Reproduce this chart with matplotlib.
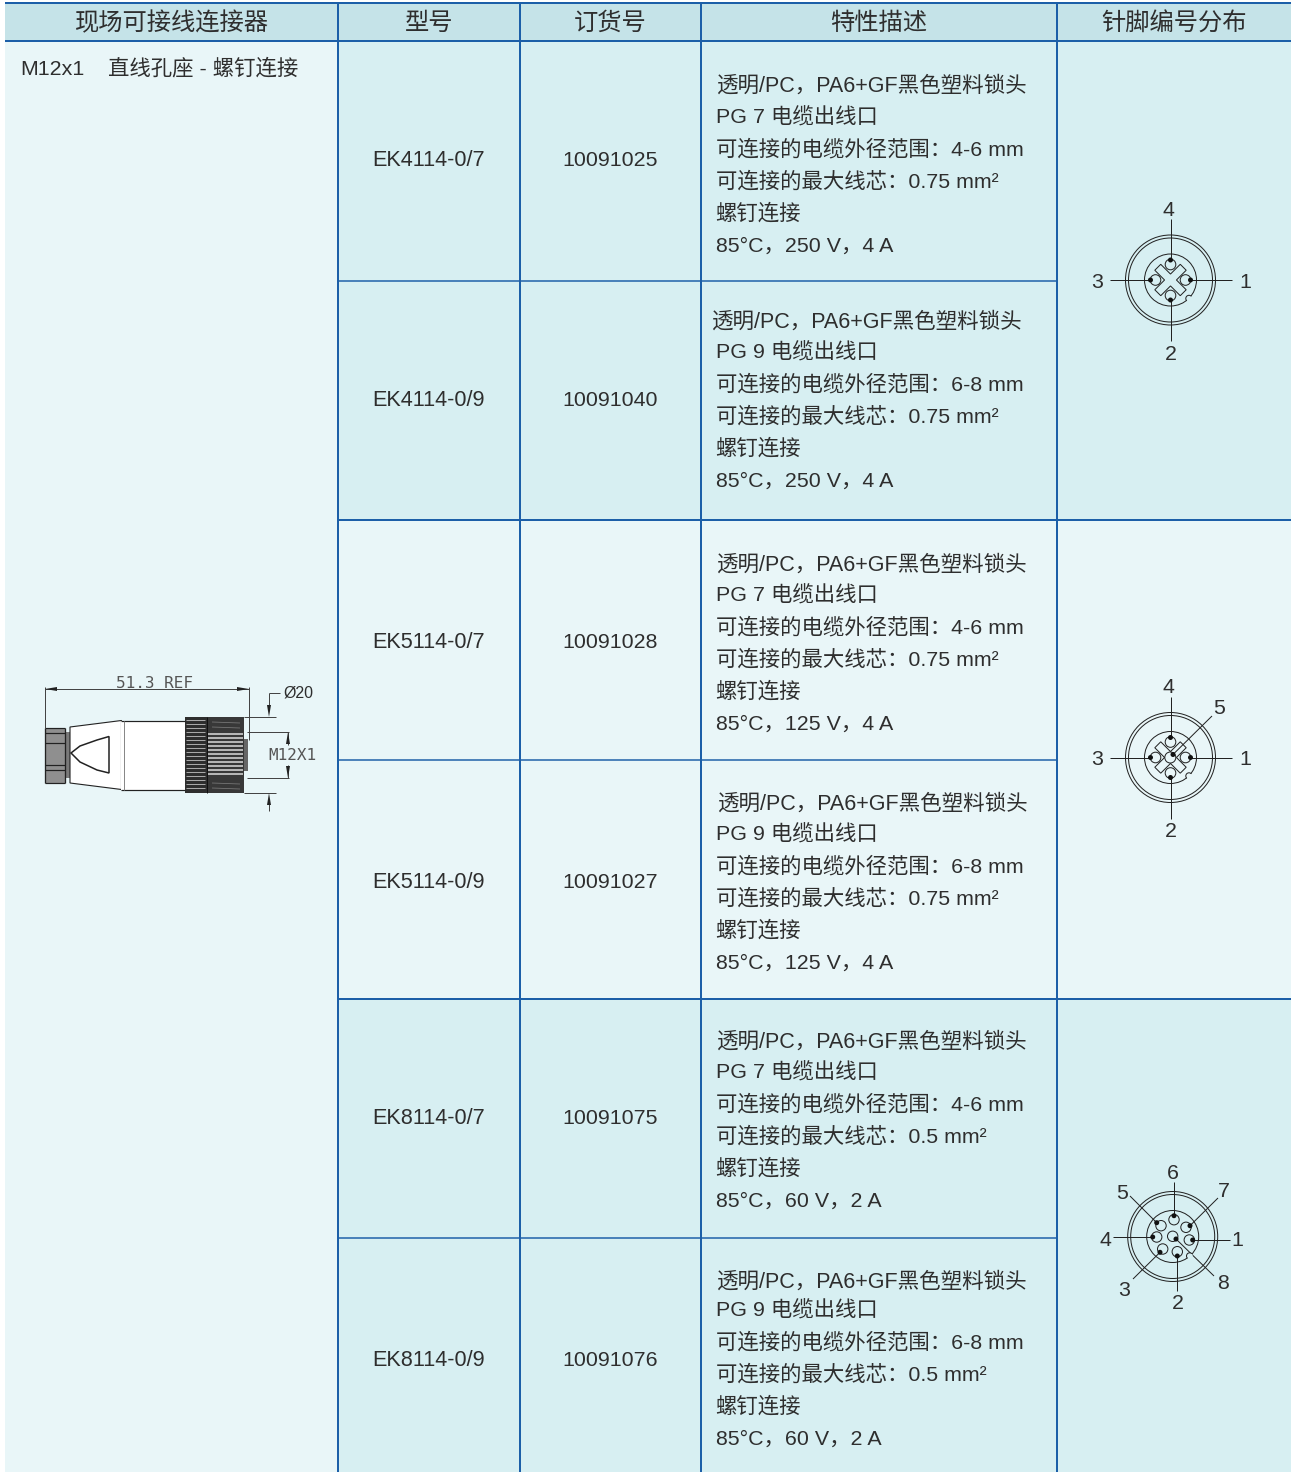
import matplotlib
matplotlib.use("Agg")
import matplotlib.pyplot as plt
from matplotlib.patches import Arc, Circle, Polygon, Rectangle

plt.rcParams['font.family'] = ['Liberation Sans', 'Noto Sans CJK SC']

W, H = 1292, 1472
LINE = "#1c5fa8"
HEAD = "#c5e3e8"
LIGHT = "#e9f6f8"
DARK = "#d7eff2"
TXT = "#2e2e2e"
INK = "#222222"

# table content
headers = ["现场可接线连接器", "型号", "订货号", "特性描述", "针脚编号分布"]
models = ["EK4114-0/7", "EK4114-0/9", "EK5114-0/7", "EK5114-0/9", "EK8114-0/7", "EK8114-0/9"]
orders = ["10091025", "10091040", "10091028", "10091027", "10091075", "10091076"]
glands = ["PG 7 电缆出线口", "PG 9 电缆出线口", "PG 7 电缆出线口", "PG 9 电缆出线口", "PG 7 电缆出线口", "PG 9 电缆出线口"]
ranges = ["4-6 mm", "6-8 mm", "4-6 mm", "6-8 mm", "4-6 mm", "6-8 mm"]
wires = ["0.75 mm²", "0.75 mm²", "0.75 mm²", "0.75 mm²", "0.5 mm²", "0.5 mm²"]
ratings = ["85°C，250 V，4 A", "85°C，250 V，4 A", "85°C，125 V，4 A", "85°C，125 V，4 A", "85°C，60 V，2 A", "85°C，60 V，2 A"]

# layout in picture pixels
col_x = [5, 338, 520, 701, 1057, 1291]
row_y = [41, 281, 520, 760, 999, 1238, 1472]
model_y = [159, 399, 641, 881, 1117, 1359]
desc_y = [
    [84, 116.5, 148, 180, 212, 244],
    [320, 351.5, 383, 415, 447, 479],
    [563, 594.5, 626, 658, 690, 722],
    [802, 833.5, 865, 897, 929, 961],
    [1040, 1071.5, 1103, 1135, 1167, 1199],
    [1280, 1309.5, 1341, 1373, 1405, 1437],
]
first_x = [716, 711, 716, 717, 716, 716]

fig = plt.figure(figsize=(W / 100, H / 100), dpi=100, facecolor="white")
ax = fig.add_axes([0, 0, 1, 1])
ax.set_xlim(0, W)
ax.set_ylim(H, 0)
ax.axis("off")


def label(x, y, s, size=15.4, ha="left", color=TXT, **kw):
    # y is the middle of the line, text is put on a baseline so mixed fonts line up
    ax.text(x, y + 7.5, s, fontsize=size, ha=ha, va="baseline", color=color, zorder=8, **kw)


def line(xs, ys, lw=1.0, color=INK):
    ax.plot(xs, ys, color=color, lw=lw * 0.72, solid_capstyle="butt", zorder=4)


def box(x0, y0, x1, y1, color, z=1):
    ax.add_patch(Rectangle((x0, y0), x1 - x0, y1 - y0, fc=color, ec="none", zorder=z))


def arrow(tip_x, tip_y, dx, dy):
    # small dimension arrow head pointing at the tip
    if dx:
        pts = [(tip_x, tip_y), (tip_x + dx, tip_y - 2), (tip_x + dx, tip_y + 2)]
    else:
        pts = [(tip_x, tip_y), (tip_x - 2, tip_y + dy), (tip_x + 2, tip_y + dy)]
    ax.add_patch(Polygon(pts, fc=INK, ec="none", zorder=5))


# backgrounds
box(col_x[0], 3, col_x[-1], row_y[0], HEAD)
box(col_x[0], row_y[0], col_x[1], H, LIGHT)
for top, bottom, c in [(row_y[0], row_y[2], DARK), (row_y[2], row_y[4], LIGHT), (row_y[4], H, DARK)]:
    box(col_x[1], top, col_x[-1], bottom, c)

# grid lines
line([col_x[0], col_x[-1]], [3, 3], 2, LINE)
line([col_x[0], col_x[-1]], [41, 41], 2, LINE)
for x in col_x[1:5]:
    line([x, x], [3, H], 2, LINE)
for i in [1, 3, 5]:
    line([col_x[1], col_x[4]], [row_y[i], row_y[i]], 1.5, LINE)
for i in [2, 4]:
    line([col_x[1], col_x[-1]], [row_y[i], row_y[i]], 2, LINE)

# header
for i, h in enumerate(headers):
    label((col_x[i] + col_x[i + 1]) / 2 + (0.5 if i == 0 else 0), 22.7, h, size=17.5, ha="center")

label(20.5, 67.5, "M12x1", size=15.4)
label(108, 67.5, "直线孔座 - 螺钉连接", size=15.4)

# rows
for i in range(6):
    label(429, model_y[i], models[i], size=15.6, ha="center")
    label(610, model_y[i], orders[i], ha="center")
    ys = desc_y[i]
    label(first_x[i], ys[0], "透明/PC，PA6+GF黑色塑料锁头", size=15.5)
    label(716, ys[1], glands[i])
    label(715.5, ys[2], "可连接的电缆外径范围：" + ranges[i])
    label(715.5, ys[3], "可连接的最大线芯：" + wires[i])
    label(715.5, ys[4], "螺钉连接")
    label(716, ys[5], ratings[i])


def ring(cx, cy, r, lw=1.0, z=5, fc="none"):
    ax.add_patch(Circle((cx, cy), r, fc=fc, ec=INK, lw=lw * 0.72, zorder=z))


def dot(x, y):
    ax.add_patch(Circle((x, y), 2.5, fc="#111111", ec="none", zorder=7))


def notch(x, y, bg):
    # key notch cut into the inner ring
    ax.add_patch(Circle((x, y), 3, fc=bg, ec="none", zorder=5.5))
    ax.add_patch(Arc((x, y), 6.4, 6.4, theta1=135, theta2=315, ec=INK, lw=0.72, zorder=5.6))


def cross(cx, cy):
    a, b = 4.2, 18
    pts = [(-a, -b), (a, -b), (a, -a), (b, -a), (b, a), (a, a), (a, b), (-a, b), (-a, a), (-b, a), (-b, -a), (-a, -a)]
    # the key is turned 45 degrees
    k = 0.7071
    xy = [(cx + (p - q) * k, cy + (p + q) * k) for p, q in pts]
    ax.add_patch(Polygon(xy, closed=True, fc="none", ec=INK, lw=0.72, zorder=5))


def pin4(cx, cy, bg):
    ring(cx, cy, 45)
    ring(cx, cy, 42)
    ring(cx, cy, 26)
    notch(cx + 18.5, cy + 18.5, bg)
    cross(cx, cy)
    for dx, dy in [(15, 0), (-15, 0), (0, -15.5), (0, 15.5)]:
        ring(cx + dx, cy + dy, 5.3, z=6)
    for dx, dy in [(20, 0), (-20, 0), (0, -20), (0, 20)]:
        dot(cx + dx, cy + dy)
    line([cx + 20, cx + 61], [cy, cy])
    line([cx - 61, cx - 20], [cy, cy])
    line([cx, cx], [cy - 61, cy - 20])
    line([cx, cx], [cy + 20, cy + 61])
    label(cx + 75, cy, "1", ha="center")
    label(cx - 73, cy, "3", ha="center")
    label(cx - 2, cy - 72, "4", ha="center")
    label(cx, cy + 72, "2", ha="center")


pin4(1170.5, 280, DARK)
pin4(1170.5, 757.5, LIGHT)
# pin 5 of the five pole version
ring(1170.3, 757.5, 5.5, z=6)
dot(1173, 754.5)
line([1173, 1212], [754.5, 716])
label(1219.5, 706.5, "5", ha="center")

# eight pole face
cx8, cy8 = 1172.7, 1236.5
ring(cx8, cy8, 45)
ring(cx8, cy8, 42)
ring(cx8, cy8, 26)
notch(cx8 + 17, cy8 + 19.5, DARK)
holes8 = [(1189.3, 1240), (1177.3, 1251.7), (1162.7, 1249), (1156.7, 1237), (1161, 1225.7), (1174, 1219.7), (1186, 1227.3), (1172.7, 1236.3)]
dots8 = [(1192.7, 1240), (1177.3, 1256), (1160, 1252.3), (1152.7, 1237), (1156.7, 1222.7), (1174, 1215.7), (1190, 1225.7), (1176, 1239)]
ends8 = [(1230, 1240), (1177.3, 1291), (1133, 1279), (1113, 1237), (1130, 1196), (1174, 1182), (1218, 1198), (1214, 1276)]
nums8 = [(1237, 1238.5, "1"), (1178, 1301.5, "2"), (1124, 1288.5, "3"), (1105, 1238.5, "4"), (1122, 1191.5, "5"), (1173, 1171.5, "6"), (1224, 1189.5, "7"), (1223, 1281.5, "8")]
for (hx, hy), (dx, dy), (ex, ey), (nx, ny, n) in zip(holes8, dots8, ends8, nums8):
    ring(hx, hy, 5.2, z=6)
    dot(dx, dy)
    line([dx, ex], [dy, ey])
    label(nx, ny, n, ha="center")

# connector drawing, left cell
G = "#8f8f8f"
DK = "#2e2e2e"
box(45, 728, 65, 783, G, 3)
box(65, 732, 70, 778, "#7a7a7a", 3)
for y in [728, 733, 743, 765, 770, 783]:
    line([45, 65], [y, y], 1.2)
line([45, 45], [728, 783], 1.3)
line([65, 65], [728, 783], 1.3)
body = [(70, 727), (121.5, 720.5), (121.5, 789.5), (70, 783)]
ax.add_patch(Polygon(body, closed=True, fc="white", ec=INK, lw=0.8, zorder=3))
box(121, 720.5, 185, 789.5, "white", 3)
line([121, 185], [720.5, 720.5], 1.2)
line([121, 185], [789.5, 789.5], 1.2)
line([123.5, 123.5], [720.5, 789.5], 1, "#888888")
window = [(109, 736.5), (109, 773), (97, 770), (80, 762), (71, 753), (80, 746), (97, 740)]
ax.add_patch(Polygon(window, closed=True, fc="white", ec=INK, lw=1.1, zorder=4))
box(185, 717, 206.5, 793, DK, 3)
box(206.5, 717, 244, 793, "#383838", 3)
box(244, 739, 248, 770.5, "#666666", 3)
# knurling stripes
for y in range(720, 792, 4):
    line([186, 205], [y, y], 1.0, "#a8a8a8")
for y in range(734, 778, 4):
    line([208, 243], [y, y], 1.8, "#c4c4c4")
for y in [722, 727, 783, 788]:
    line([212, 240], [y, y + 1], 0.8, "#777777")
line([206.5, 206.5], [717, 793], 1, "#111111")

# dimensions
DIM = "#444444"
line([45, 45], [687, 728], 1, DIM)
line([248.5, 248.5], [687, 740], 1, DIM)
line([45, 249], [689, 689], 1, DIM)
arrow(45, 689, 12, 0)
arrow(249, 689, -12, 0)
ax.text(154, 688, "51.3 REF", fontsize=11.5, family="DejaVu Sans Mono", ha="center", va="baseline", color="#555555", zorder=8)
line([269, 269], [693, 709], 1, DIM)
line([269, 280], [693, 693], 1, DIM)
arrow(269, 717, 0, -12)
ax.text(283, 698, "Ø20", fontsize=11.5, ha="left", va="baseline", color=TXT, zorder=8)
line([244, 276], [717, 717], 1, DIM)
line([244, 276], [793, 793], 1, DIM)
line([269, 269], [800, 811], 1, DIM)
arrow(269, 793, 0, 12)
line([247, 289], [732, 732], 1, DIM)
line([247, 289], [778, 778], 1, DIM)
line([288, 288], [732, 745], 1, DIM)
line([288, 288], [765, 778], 1, DIM)
arrow(288, 732, 0, 12)
arrow(288, 778, 0, -12)
ax.text(292, 756, "M12X1", fontsize=11.5, family="DejaVu Sans Mono", ha="center", va="center", color="#555555", zorder=8)

fig.savefig("out.png", dpi=100, facecolor="white")
